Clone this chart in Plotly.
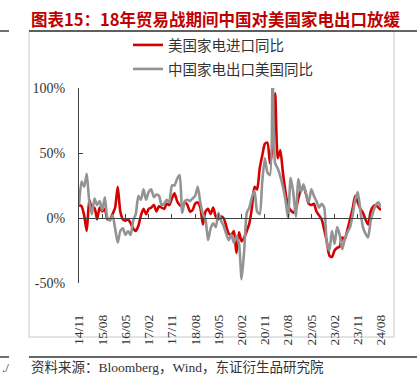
import plotly.graph_objects as go

# ---------------- data ----------------
start_year, start_month, n_months = 2014, 11, 118
months = []
y_, m_ = start_year, start_month
for _ in range(n_months):
    months.append(f"{y_ % 100:02d}/{m_:02d}")
    m_ += 1
    if m_ > 12:
        m_ = 1
        y_ += 1

tick_labels = ["14/11", "15/08", "16/05", "17/02", "17/11", "18/08", "19/05",
               "20/02", "20/11", "21/08", "22/05", "23/02", "23/11", "24/08"]

# 美国家电进口同比 (%)
us_import_yoy = [10, 9, 2, -10, 14, 7, 8, -1, 8, 5,
                 7, -1, -1, 3, 8, 24, 5, -1, -2, -1,
                 -4, -8, -10, -6, 2, 7, 3, 7, 8, 10,
                 5, 9, 8, 7, 11, 10, 15, 19, 13, 10,
                 9, 12, 10, 5, 6, 11, 12, 8, -5, 5,
                 7, 3, 8, 1, -1, 1, 0, -6, -12, -13,
                 -10, -27, -11, -18, -15, -10, -4, 8, 24, 22,
                 38, 48, 57, 58, 42, 55, 96, 46, 52, 35,
                 20, 9, 6, 4, 7, 15, 22, 24, 18, 11,
                 10, 11, 5, 2, -1, -9, -18, -29, -30, -25,
                 -23, -22, -15, -16, -9, -1, 7, 17, 12, 7,
                 4, -1, -5, 5, 9, 10, 8, 6]

# 中国家电出口美国同比 (%)
cn_export_us_yoy = [10, 28, 24, 34, 12, 3, 15, 10, 13, 6,
                    16, 0, -2, 2, -8, -19, -10, -8, -13, -10,
                    -13, -2, 3, 17, 14, 22, 14, 20, 22, 16,
                    18, 17, 10, 11, 14, 12, 25, 25, 30, 33,
                    4, 13, 14, 13, 15, 17, 24, 12, 3, -1,
                    -17, -8, -4, -7, 4, -2, -6, -12, -17, -13,
                    -19, -14, -20, -47, -25, 4, 8, 16, 21, 5,
                    3, 28, 46, 35, 33, 110, 42, 38, 32, 24,
                    14, 0, 31, 20, 1, 30, 20, 26, 18, 12,
                    22, 17, 13, 8, 11, 8, -19, -25, -10, -20,
                    -7, -13, -24, -16, -11, -7, 2, 14, 20, 6,
                    -7, -12, -15, -2, 5, 10, 12, 8]

y_tickvals = [-50, 0, 50, 100]
y_ticktext = ["-50%", "0%", "50%", "100%"]

series_names = ["美国家电进口同比", "中国家电出口美国同比"]
title_text = "图表15：18年贸易战期间中国对美国家电出口放缓"
source_text = "资料来源：Bloomberg，Wind，东证衍生品研究院"

# ---------------- layout helpers ----------------
W, H = 417, 391
L, R, T, B = 79, 36, 88, 108
PW = W - L - R
PH = H - T - B


def px(x):
    return (x - L) / PW


def py(y):
    return (H - B - y) / PH


RED = "#D60000"
GRAY = "#939393"
AXIS = "#404040"
TEXT = "#333333"

fig = go.Figure()
fig.add_trace(go.Scatter(
    x=months, y=us_import_yoy, name=series_names[0], mode="lines",
    line=dict(color=RED, width=2.6, shape="spline", smoothing=0.6),
    xaxis="x", yaxis="y", legend="legend"))
fig.add_trace(go.Scatter(
    x=months, y=cn_export_us_yoy, name=series_names[1], mode="lines",
    line=dict(color=GRAY, width=2.6, shape="spline", smoothing=0.6),
    xaxis="x2", yaxis="y", legend="legend2"))

common_x = dict(type="category", categoryorder="array", categoryarray=months,
                range=[0, n_months - 1], fixedrange=True, showgrid=False)

fig.update_layout(
    width=W, height=H,
    margin=dict(l=L, r=R, t=T, b=B, pad=0),
    paper_bgcolor="white", plot_bgcolor="white",
    showlegend=True,
    xaxis=dict(**common_x, showline=False, ticks="", tickmode="array",
               tickvals=tick_labels, ticktext=tick_labels, tickangle=-90,
               ticklabelstandoff=28,
               tickfont=dict(family="Liberation Serif", size=13.5, color=TEXT)),
    xaxis2=dict(**common_x, overlaying="x", anchor="free", position=50 / 150,
                side="bottom", showline=True, linecolor=AXIS, linewidth=1.3,
                ticks="inside", ticklen=4, tickwidth=1.2, tickcolor=AXIS,
                tickmode="array", tickvals=tick_labels, showticklabels=False),
    yaxis=dict(range=[-50, 100], showgrid=False, zeroline=False,
               showline=True, linecolor=AXIS, linewidth=1.3,
               ticks="inside", ticklen=4, tickwidth=1.2, tickcolor=AXIS,
               tickmode="array", tickvals=y_tickvals, ticktext=y_ticktext,
               ticklabelstandoff=10,
               tickfont=dict(family="Liberation Serif", size=14, color=TEXT)),
    legend=dict(x=px(128), y=py(45), xanchor="left", yanchor="middle",
                bgcolor="rgba(0,0,0,0)", borderwidth=0,
                font=dict(family="Noto Sans CJK SC", size=14.5, color=TEXT)),
    legend2=dict(x=px(128), y=py(69), xanchor="left", yanchor="middle",
                 bgcolor="rgba(0,0,0,0)", borderwidth=0,
                 font=dict(family="Noto Sans CJK SC", size=14.5, color=TEXT)),
)

# frame and page rules
shapes = [
    dict(type="rect", xref="paper", yref="paper", x0=px(29), x1=px(394), y0=py(337), y1=py(31),
         line=dict(color="#C8C8C8", width=1), fillcolor="rgba(0,0,0,0)", layer="below"),
    dict(type="line", xref="paper", yref="paper", x0=px(29), x1=px(417), y0=py(31), y1=py(31),
         line=dict(color="#333333", width=1.4)),
    dict(type="line", xref="paper", yref="paper", x0=px(0), x1=px(9), y0=py(31), y1=py(31),
         line=dict(color="#333333", width=1.4)),
    dict(type="line", xref="paper", yref="paper", x0=px(29), x1=px(417), y0=py(357), y1=py(357),
         line=dict(color="#333333", width=1.4)),
    dict(type="line", xref="paper", yref="paper", x0=px(0), x1=px(9), y0=py(357), y1=py(357),
         line=dict(color="#333333", width=1.4)),
]
fig.update_layout(shapes=shapes)

fig.add_annotation(text=title_text, xref="paper", yref="paper", x=px(29), y=py(19.5),
                   xanchor="left", yanchor="middle", showarrow=False,
                   font=dict(family="Noto Sans CJK SC", size=16.5, color="#C00000", weight="bold"))
fig.add_annotation(text=source_text, xref="paper", yref="paper", x=px(29), y=py(367),
                   xanchor="left", yanchor="middle", showarrow=False,
                   font=dict(family="Liberation Serif, Noto Sans CJK SC", size=13.5, color=TEXT))
fig.add_annotation(text="./", xref="paper", yref="paper", x=px(0), y=py(367),
                   xanchor="left", yanchor="middle", showarrow=False,
                   font=dict(family="Liberation Serif", size=13, color=TEXT))

fig.write_html("out.html", config={"displayModeBar": False},
               post_script="document.body.style.margin='0';")
